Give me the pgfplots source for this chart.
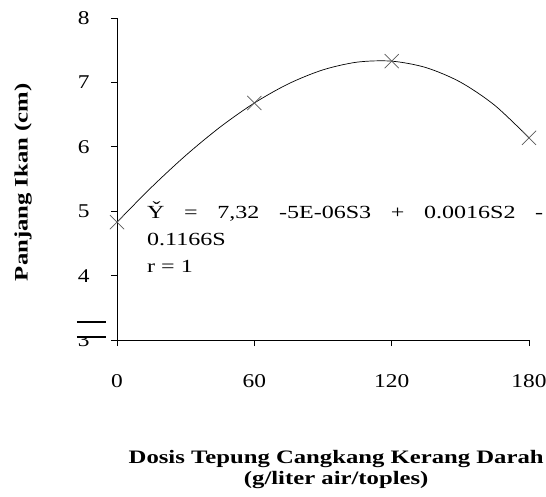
\documentclass[border=0pt]{standalone}
\usepackage{pgfplots}
\pgfplotsset{compat=1.18}
\usepackage{fontspec}
\setmainfont[FakeStretch=1.3]{Liberation Serif}
\newfontfamily\tickfont[FakeStretch=1.2]{Liberation Serif}
\begin{document}
\begin{tikzpicture}
\useasboundingbox (-117pt,-156pt) rectangle (429pt,340pt);
\begin{axis}[
    scale only axis,
    width=412pt, height=322pt,
    xmin=0, xmax=180, ymin=3, ymax=8,
    axis x line*=bottom, axis y line*=left,
    xtick={0,60,120,180}, ytick={3,4,5,6,7,8},
    tick align=outside, major tick length=6pt,
    tick style={black, line width=0.8pt},
    axis line style={black, line width=0.8pt},
    /pgf/number format/assume math mode=true,
    tick label style={font=\tickfont\fontsize{19.5}{23}\selectfont},
    xticklabel style={yshift=-25pt},
    yticklabel style={xshift=-18pt},
    xlabel={Dosis Tepung Cangkang Kerang Darah\\(g/liter air/toples)},
    xlabel style={at={(axis description cs:0.532,-0.332)}, anchor=north,
        align=center, font=\fontsize{19}{21}\selectfont\bfseries},
    ylabel={Panjang Ikan (cm)},
    ylabel style={at={(axis description cs:-0.228,0.49)}, anchor=center,
        font=\fontsize{19}{22}\selectfont\bfseries},
    clip=false,
]
% fitted curve
\addplot[black, line width=0.7pt, smooth] coordinates {
    (0,4.83) (15,5.37) (30,5.865) (45,6.305) (60,6.68) (75,6.98)
    (90,7.195) (105,7.315) (120,7.33) (135,7.23) (150,7.005)
    (165,6.645) (180,6.14)
};
% observed means
\addplot[only marks, mark=x, mark size=10pt, draw=black!65, line width=0.7pt]
    coordinates {(0,4.83) (60,6.68) (120,7.33) (180,6.14)};
\end{axis}
% axis break
\fill[white] (-42pt,3pt) rectangle (-9pt,18pt);
\draw[line width=1.6pt] (-40pt,18pt) -- (-11pt,18pt);
\draw[line width=1.6pt] (-40pt,3pt) -- (-11pt,3pt);
% regression text
\begin{scope}[every node/.style={font=\fontsize{18.5}{21}\selectfont, inner sep=0pt}]
\node[anchor=base west] at (30pt,122pt)
    {\hbox to 396pt{\v{Y}\hfill=\hfill7,32\hfill-5E-06S3\hfill+\hfill0.0016S2\hfill-}};
\node[anchor=base west] at (30pt,95pt) {0.1166S};
\node[anchor=base west] at (30pt,68pt) {r = 1};
\end{scope}
\end{tikzpicture}
\end{document}
